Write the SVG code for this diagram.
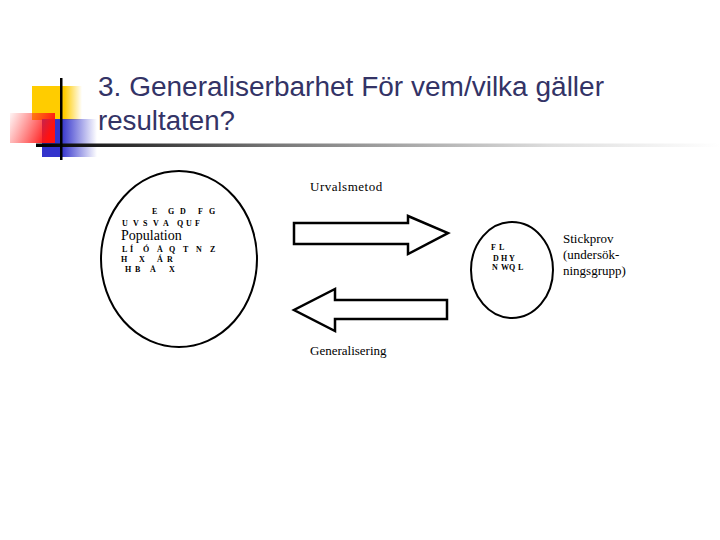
<svg xmlns="http://www.w3.org/2000/svg" width="720" height="540" viewBox="0 0 720 540">
<defs>
<linearGradient id="gy" x1="0" y1="0" x2="1" y2="0"><stop offset="0" stop-color="#FFCC00"/><stop offset="0.65" stop-color="#FFCC00"/><stop offset="1" stop-color="#FFCC00" stop-opacity="0"/></linearGradient>
<linearGradient id="gb" x1="0" y1="0" x2="1" y2="0"><stop offset="0" stop-color="#3333CC"/><stop offset="0.35" stop-color="#3333CC"/><stop offset="1" stop-color="#3333CC" stop-opacity="0"/></linearGradient>
<linearGradient id="gr" x1="0" y1="0" x2="1" y2="0.3"><stop offset="0" stop-color="#FF3333" stop-opacity="0.05"/><stop offset="1" stop-color="#FF1111"/></linearGradient>
<linearGradient id="gl" x1="0" y1="0" x2="1" y2="0"><stop offset="0" stop-color="#000"/><stop offset="0.35" stop-color="#777"/><stop offset="0.75" stop-color="#ddd"/><stop offset="1" stop-color="#fff"/></linearGradient>
<style>
.title{font-family:"Liberation Sans",Arial,sans-serif;font-size:27px;fill:#333366}
.serif{font-family:"Liberation Serif","Times New Roman",serif;fill:#000}
.lbl{font-size:13px}
.sym{font-size:8px;font-weight:bold}
.shape{fill:#fff;stroke:#000;stroke-width:2}
.arrow{fill:#fff;stroke:#000;stroke-width:2.5}
</style>
</defs>
<rect width="720" height="540" fill="#fff"/>
<g id="decor">
<rect x="32" y="86" width="50" height="34" fill="url(#gy)"/>
<rect x="42" y="119" width="55" height="38" fill="url(#gb)"/>
<rect x="10" y="113" width="45" height="30" fill="url(#gr)"/>
<rect x="36" y="143.5" width="684" height="3.5" fill="url(#gl)"/>
<rect x="60" y="78" width="2.5" height="82" fill="#000"/>
</g>
<g id="title">
<text class="title" x="98" y="96" textLength="506" lengthAdjust="spacingAndGlyphs">3. Generaliserbarhet För vem/vilka gäller</text>
<text class="title" x="98" y="130" textLength="137" lengthAdjust="spacingAndGlyphs">resultaten?</text>
</g>
<g id="population">
<ellipse class="shape" cx="179" cy="259" rx="78" ry="88"/>
<text class="serif sym" x="152 160 168 174 180 189 198 204 209" y="214">E G D F G</text>
<text class="serif sym" x="122 128 133 138 143 148 153 158 163 170 177 181 186 191 195" y="226">U V S V A Q U F</text>
<text class="serif" font-size="14" x="121" y="240">Population</text>
<text class="serif sym" x="122 126 130 136 143 150 157 163 169 176 183 190 196 203 210" y="252">L Í Ó Å Q T N Z</text>
<text class="serif sym" x="121 130 139 148 157 162 167" y="262">H X Á R</text>
<text class="serif sym" x="125 130 135 142 150 160 169" y="272">H B Å X</text>
</g>
<g id="sample">
<ellipse class="shape" cx="512" cy="270" rx="41" ry="48"/>
<text class="serif sym" x="491 495 499" y="250">F L</text>
<text class="serif sym" x="493 497 501 505 509" y="261">D H Y</text>
<text class="serif sym" x="492 497 501 505 509 513 518" y="270">N W Q L</text>
<text class="serif lbl" x="563" y="243">Stickprov</text>
<text class="serif lbl" x="563" y="259">(undersök-</text>
<text class="serif lbl" x="563" y="275">ningsgrupp)</text>
</g>
<g id="connectors">
<polygon class="arrow" points="294,223 408,223 408,216 448,233 408,254 408,244 294,244"/>
<text class="serif lbl" x="310" y="191" letter-spacing="0.5">Urvalsmetod</text>
<polygon class="arrow" points="447,300 335,300 335,289 294,310 335,331 335,319 447,319"/>
<text class="serif lbl" x="310" y="355">Generalisering</text>
</g>
</svg>
